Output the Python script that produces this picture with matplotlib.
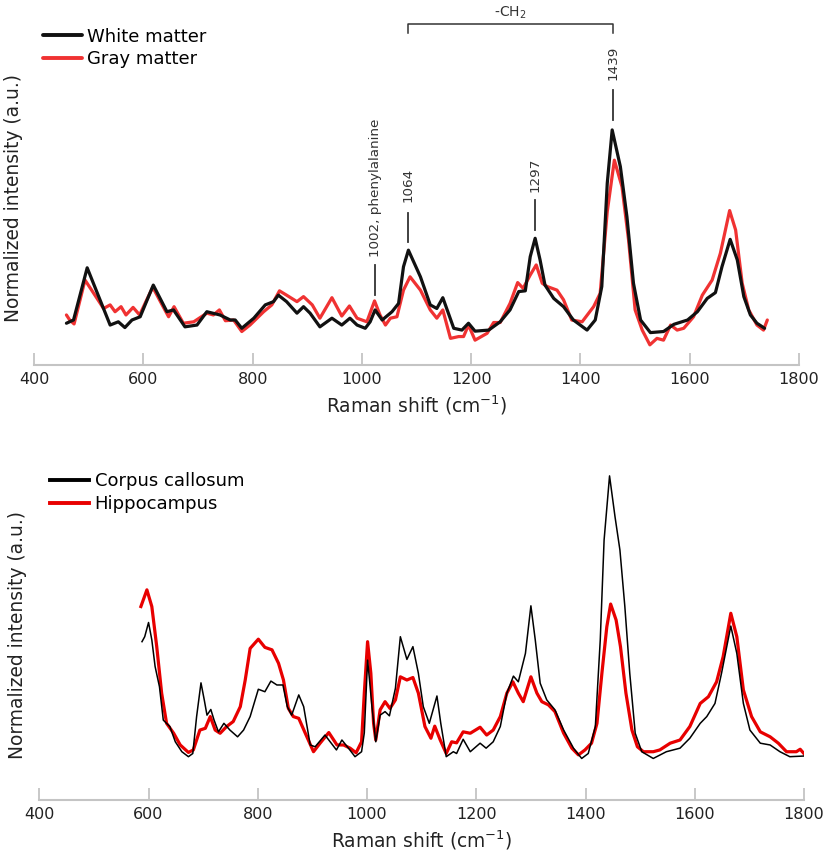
import matplotlib
matplotlib.use("Agg")
import matplotlib.pyplot as plt

plt.rcParams['font.family'] = ['DejaVu Sans']

# ---------------- Top panel data ----------------
wm_x = [459, 472, 497, 539, 554, 566, 579, 594, 618, 643, 655, 676, 698, 716, 740, 759, 768, 780,
        802, 823, 838, 847, 862, 881, 893, 905, 923, 945, 963, 978, 991, 1006, 1015, 1024, 1037,
        1055, 1067, 1076, 1085, 1107, 1125, 1137, 1148, 1156, 1168, 1183, 1195, 1207, 1232, 1253,
        1271, 1287, 1299, 1308, 1317, 1326, 1335, 1351, 1369, 1387, 1412, 1427, 1439, 1449, 1458,
        1473, 1485, 1497, 1510, 1528, 1552, 1571, 1596, 1614, 1632, 1647, 1659, 1674, 1687, 1699,
        1711, 1723, 1737]
wm_y = [0.116, 0.125, 0.270, 0.111, 0.120, 0.104, 0.125, 0.134, 0.222, 0.148, 0.153, 0.106, 0.111,
        0.148, 0.139, 0.125, 0.125, 0.102, 0.130, 0.167, 0.176, 0.194, 0.176, 0.144, 0.162, 0.144,
        0.106, 0.130, 0.111, 0.130, 0.111, 0.102, 0.120, 0.153, 0.125, 0.148, 0.171, 0.273, 0.319,
        0.245, 0.167, 0.157, 0.187, 0.153, 0.102, 0.097, 0.116, 0.094, 0.097, 0.120, 0.153, 0.204,
        0.206, 0.301, 0.352, 0.292, 0.222, 0.185, 0.162, 0.125, 0.097, 0.125, 0.218, 0.505, 0.653,
        0.551, 0.412, 0.227, 0.125, 0.090, 0.093, 0.113, 0.125, 0.148, 0.185, 0.201, 0.273, 0.349,
        0.292, 0.190, 0.139, 0.116, 0.102]

gm_x = [459, 465, 473, 493, 509, 527, 539, 548, 559, 568, 581, 593, 606, 617, 636, 646, 656, 673,
        692, 716, 728, 739, 750, 765, 780, 795, 820, 835, 849, 862, 881, 893, 909, 923, 945, 963,
        977, 991, 1009, 1023, 1033, 1043, 1052, 1064, 1076, 1088, 1107, 1125, 1137, 1148, 1162,
        1177, 1186, 1195, 1207, 1229, 1241, 1253, 1271, 1285, 1295, 1308, 1319, 1330, 1339, 1357,
        1369, 1384, 1403, 1424, 1436, 1449, 1462, 1476, 1488, 1500, 1513, 1527, 1540, 1552, 1565,
        1577, 1589, 1607, 1623, 1641, 1656, 1673, 1684, 1696, 1708, 1723, 1735, 1742]
gm_y = [0.139, 0.125, 0.114, 0.236, 0.199, 0.157, 0.167, 0.148, 0.162, 0.139, 0.160, 0.139, 0.181,
        0.216, 0.162, 0.134, 0.162, 0.116, 0.120, 0.144, 0.139, 0.153, 0.123, 0.125, 0.093, 0.111,
        0.148, 0.167, 0.206, 0.194, 0.176, 0.190, 0.167, 0.130, 0.187, 0.136, 0.164, 0.130, 0.120,
        0.178, 0.139, 0.111, 0.130, 0.134, 0.208, 0.245, 0.208, 0.153, 0.130, 0.153, 0.074, 0.079,
        0.079, 0.111, 0.069, 0.088, 0.118, 0.118, 0.171, 0.229, 0.213, 0.250, 0.278, 0.227, 0.218,
        0.208, 0.181, 0.125, 0.120, 0.162, 0.199, 0.426, 0.569, 0.495, 0.347, 0.153, 0.097, 0.056,
        0.074, 0.069, 0.111, 0.097, 0.102, 0.134, 0.194, 0.236, 0.310, 0.429, 0.375, 0.227, 0.153,
        0.111, 0.097, 0.125]

# ---------------- Bottom panel data ----------------
cc_x = [588, 593, 600, 606, 612, 620, 627, 639, 649, 661, 673, 681, 688, 696, 702, 707, 714, 720,
        728, 738, 749, 763, 774, 786, 801, 813, 824, 835, 846, 854, 862, 875, 884, 896, 905, 923,
        944, 954, 966, 978, 990, 995, 1001, 1004, 1009, 1016, 1024, 1033, 1041, 1052, 1061, 1073,
        1084, 1094, 1103, 1114, 1128, 1135, 1145, 1158, 1164, 1176, 1189, 1207, 1218, 1231, 1244,
        1256, 1268, 1277, 1290, 1300, 1308, 1317, 1329, 1344, 1360, 1378, 1393, 1405, 1418, 1427,
        1434, 1444, 1454, 1463, 1472, 1481, 1491, 1503, 1524, 1548, 1573, 1591, 1610, 1622, 1637,
        1649, 1666, 1677, 1689, 1701, 1720, 1738, 1756, 1774, 1802]
cc_y = [0.446, 0.460, 0.500, 0.451, 0.376, 0.319, 0.225, 0.207, 0.164, 0.136, 0.122, 0.131, 0.235,
        0.330, 0.282, 0.239, 0.255, 0.225, 0.192, 0.216, 0.197, 0.178, 0.197, 0.235, 0.312, 0.305,
        0.335, 0.324, 0.324, 0.263, 0.239, 0.296, 0.263, 0.155, 0.150, 0.183, 0.141, 0.169, 0.146,
        0.122, 0.136, 0.189, 0.394, 0.347, 0.263, 0.164, 0.239, 0.249, 0.237, 0.315, 0.460, 0.396,
        0.432, 0.357, 0.263, 0.216, 0.293, 0.216, 0.122, 0.136, 0.131, 0.171, 0.136, 0.160, 0.146,
        0.164, 0.207, 0.301, 0.349, 0.333, 0.413, 0.547, 0.451, 0.329, 0.282, 0.254, 0.197, 0.146,
        0.117, 0.131, 0.207, 0.451, 0.732, 0.913, 0.798, 0.704, 0.545, 0.357, 0.188, 0.136, 0.117,
        0.136, 0.146, 0.174, 0.216, 0.235, 0.272, 0.357, 0.490, 0.413, 0.272, 0.197, 0.160, 0.155,
        0.136, 0.122, 0.124]

hc_x = [586, 597, 606, 615, 624, 633, 646, 658, 673, 682, 694, 704, 713, 722, 731, 743, 755, 768,
        777, 786, 801, 813, 826, 838, 847, 856, 865, 875, 887, 902, 914, 930, 945, 957, 969, 980,
        990, 995, 1001, 1007, 1012, 1016, 1024, 1033, 1042, 1052, 1061, 1073, 1084, 1094, 1106,
        1117, 1124, 1134, 1145, 1155, 1164, 1176, 1189, 1207, 1219, 1231, 1244, 1256, 1267, 1277,
        1286, 1300, 1311, 1320, 1332, 1344, 1360, 1375, 1387, 1399, 1411, 1421, 1430, 1439, 1446,
        1456, 1464, 1474, 1485, 1495, 1506, 1524, 1536, 1555, 1573, 1591, 1610, 1625, 1640, 1652,
        1666, 1677, 1689, 1704, 1720, 1738, 1753, 1768, 1786, 1793, 1802]
hc_y = [0.545, 0.592, 0.545, 0.432, 0.301, 0.216, 0.188, 0.155, 0.134, 0.141, 0.197, 0.202, 0.235,
        0.197, 0.188, 0.207, 0.221, 0.263, 0.338, 0.427, 0.453, 0.430, 0.423, 0.385, 0.338, 0.258,
        0.235, 0.230, 0.188, 0.136, 0.160, 0.190, 0.155, 0.155, 0.146, 0.133, 0.164, 0.301, 0.446,
        0.357, 0.216, 0.169, 0.254, 0.277, 0.258, 0.282, 0.347, 0.338, 0.345, 0.301, 0.207, 0.174,
        0.208, 0.169, 0.131, 0.164, 0.161, 0.192, 0.188, 0.205, 0.183, 0.197, 0.235, 0.301, 0.333,
        0.301, 0.277, 0.347, 0.301, 0.277, 0.268, 0.249, 0.188, 0.146, 0.127, 0.141, 0.160, 0.216,
        0.357, 0.488, 0.552, 0.507, 0.432, 0.301, 0.197, 0.150, 0.136, 0.136, 0.141, 0.160, 0.169,
        0.207, 0.272, 0.291, 0.333, 0.404, 0.526, 0.460, 0.310, 0.235, 0.192, 0.178, 0.160, 0.136,
        0.136, 0.143, 0.127]

xticks = [400, 600, 800, 1000, 1200, 1400, 1600, 1800]
top_labels = ["White matter", "Gray matter"]
bottom_labels = ["Corpus callosum", "Hippocampus"]
peak_labels = ["1002, phenylalanine", "1064", "1297", "1439"]
peak_pos = [1024, 1084, 1317, 1460]

W, H = 827, 855
fig = plt.figure(figsize=(W / 100, H / 100), dpi=100)

def px_axes(l, r, t, b):
    return fig.add_axes([l / W, 1 - b / H, (r - l) / W, (b - t) / H])

ax1 = px_axes(34.2, 799, 5, 365)
ax2 = px_axes(39.3, 804, 445, 800)

ax1.plot(wm_x, wm_y, color='#111111', lw=2.3, label=top_labels[0], solid_joinstyle='round',
         solid_capstyle='round', zorder=3)
ax1.plot(gm_x, gm_y, color='#f03232', lw=2.3, label=top_labels[1], solid_joinstyle='round',
         solid_capstyle='round', zorder=2)

ax2.plot(hc_x, hc_y, color='#e80000', lw=2.3, label=bottom_labels[1], solid_joinstyle='round', zorder=2)
ax2.plot(cc_x, cc_y, color='#000000', lw=1.1, label=bottom_labels[0], solid_joinstyle='round', zorder=3)

for ax in (ax1, ax2):
    ax.set_xlim(400, 1800)
    ax.set_ylim(0, 1)
    for s in ('top', 'right', 'left'):
        ax.spines[s].set_visible(False)
    ax.spines['bottom'].set_color('#c4c4c4')
    ax.spines['bottom'].set_linewidth(1.5)
    ax.set_xticks(xticks)
    ax.set_yticks([])
    ax.tick_params(axis='x', direction='in', length=8.5, width=1.3, color='#c4c4c4',
                   labelsize=11.5, labelcolor='#222222', pad=5)
    ax.set_xlabel('Raman shift (cm$^{-1}$)', fontsize=13.4, color='#222222', labelpad=5)
    ax.set_ylabel('Normalized intensity (a.u.)', fontsize=13.4, color='#222222', labelpad=4)
    ax.patch.set_alpha(0)

ax1.yaxis.set_label_coords(-0.0146, 0.4625)
ax2.yaxis.set_label_coords(-0.016, 0.465)

h, l = ax1.get_legend_handles_labels()
leg1 = ax1.legend(h, l, loc='upper left', bbox_to_anchor=(0.002, 0.957), frameon=False,
                  fontsize=13, handlelength=2.15, handletextpad=0.3, labelspacing=0.25,
                  borderaxespad=0)
for line in leg1.get_lines():
    line.set_linewidth(2.8)

h, l = ax2.get_legend_handles_labels()
order = [1, 0]
leg2 = ax2.legend([h[i] for i in order], [l[i] for i in order], loc='upper left',
                  bbox_to_anchor=(0.005, 0.943), frameon=False, fontsize=13,
                  handlelength=2.15, handletextpad=0.3, labelspacing=0.25, borderaxespad=0)
for line in leg2.get_lines():
    line.set_linewidth(2.8)

# peak annotations (top panel)
ann_color = '#333333'
text_bottom = [0.300, 0.453, 0.481, 0.792]
line_top = [0.278, 0.422, 0.458, 0.764]
line_bot = [0.194, 0.342, 0.375, 0.681]
for lab, xp, tb, lt, lb in zip(peak_labels, peak_pos, text_bottom, line_top, line_bot):
    ax1.text(xp, tb, lab, rotation=90, ha='center', va='bottom', fontsize=9.7,
             color=ann_color, clip_on=False)
    ax1.plot([xp, xp], [lb, lt], color=ann_color, lw=1.3, clip_on=False)

# -CH2 bracket
bx0, bx1 = peak_pos[1], peak_pos[3]
ax1.plot([bx0, bx0, bx1, bx1], [0.922, 0.946, 0.946, 0.922], color=ann_color, lw=1.1, clip_on=False)
ax1.text((bx0 + bx1) / 2, 0.955, '-CH$_2$', ha='center', va='bottom', fontsize=10,
         color=ann_color, clip_on=False)

fig.savefig('out.png', dpi=100)
